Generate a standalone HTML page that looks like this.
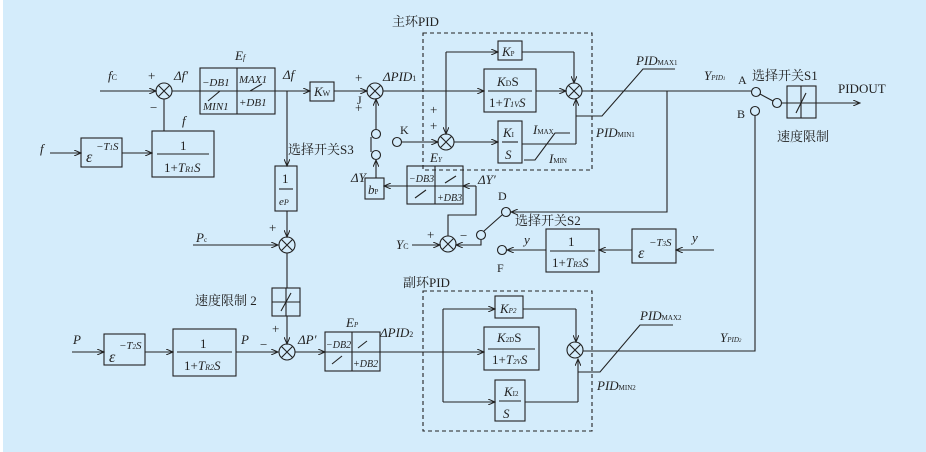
<!DOCTYPE html>
<html><head><meta charset="utf-8">
<style>
html,body{margin:0;padding:0;background:#fff;}
svg{display:block;}
text{font-family:"Liberation Serif","Noto Serif CJK SC",serif;fill:#222;}
.i{font-style:italic;}
.c{font-family:"Liberation Serif","Noto Serif CJK SC",serif;}
</style></head><body>
<svg width="926" height="452" viewBox="0 0 926 452" xmlns="http://www.w3.org/2000/svg">
<defs>
<marker id="a" markerWidth="8" markerHeight="6" refX="7" refY="3" orient="auto" markerUnits="userSpaceOnUse">
<path d="M0,0 L7,3 L0,6" fill="none" stroke="#222" stroke-width="1"/></marker>
<g id="sum"><circle r="8" fill="none" stroke="#222" stroke-width="1.1"/><path d="M-5.6,-5.6L5.6,5.6M-5.6,5.6L5.6,-5.6" stroke="#222" stroke-width="1.1"/></g>
</defs>
<rect x="0" y="0" width="926" height="452" fill="#d4ecfb"/>
<rect x="0" y="0" width="3" height="452" fill="#fff"/>
<g stroke="#222" stroke-width="1.1" fill="none">
<rect x="423" y="33" width="169" height="137" stroke-dasharray="4,3"/>
<rect x="423" y="291" width="169" height="140" stroke-dasharray="4,3"/>
<line x1="100" y1="91" x2="156" y2="91" marker-end="url(#a)"/>
<line x1="172" y1="91" x2="200" y2="91"/>
<rect x="200" y="68" width="75" height="46"/>
<line x1="237" y1="68" x2="237" y2="114"/><line x1="200" y1="91" x2="275" y2="91"/>
<line x1="208" y1="101" x2="220" y2="91"/><line x1="250" y1="91" x2="262" y2="84"/>
<line x1="275" y1="91" x2="310" y2="91" marker-end="url(#a)"/>
<rect x="310" y="82" width="24" height="19"/>
<line x1="334" y1="91" x2="367" y2="91" marker-end="url(#a)"/>
<line x1="383" y1="91" x2="484" y2="91" marker-end="url(#a)"/>
<line x1="50" y1="153" x2="81" y2="153" marker-end="url(#a)"/>
<rect x="81" y="138" width="41" height="29"/>
<line x1="122" y1="153" x2="152" y2="153" marker-end="url(#a)"/>
<rect x="152" y="131" width="62" height="46"/>
<line x1="157" y1="154" x2="209" y2="154"/>
<line x1="164" y1="131" x2="164" y2="99"/>
<line x1="287" y1="91" x2="287" y2="166" marker-end="url(#a)"/>
<rect x="275" y="166" width="22" height="45"/>
<line x1="279" y1="189" x2="293" y2="189"/>
<line x1="287" y1="211" x2="287" y2="237" marker-end="url(#a)"/>
<line x1="193" y1="245" x2="278" y2="245" marker-end="url(#a)"/>
<line x1="287" y1="253" x2="287" y2="288"/>
<rect x="272" y="288" width="28" height="28"/>
<line x1="286" y1="288" x2="286" y2="316"/><line x1="272" y1="302" x2="300" y2="302"/>
<line x1="281" y1="311" x2="291" y2="293"/>
<line x1="287" y1="316" x2="287" y2="344" marker-end="url(#a)"/>
<circle cx="376" cy="134" r="4.5"/><circle cx="376" cy="155" r="4.5"/>
<line x1="376" y1="129" x2="376" y2="99" marker-end="url(#a)"/>
<line x1="371" y1="137" x2="371" y2="152"/>
<rect x="365" y="178" width="19" height="21"/>
<line x1="376" y1="178" x2="376" y2="160" marker-end="url(#a)"/>
<circle cx="397" cy="142" r="4.5"/>
<line x1="402" y1="142" x2="438" y2="142" marker-end="url(#a)"/>
<line x1="446" y1="52" x2="498" y2="52" marker-end="url(#a)"/>
<line x1="446" y1="52" x2="446" y2="134" marker-end="url(#a)"/>
<rect x="498" y="41" width="24" height="19"/>
<line x1="522" y1="52" x2="574" y2="52"/><line x1="574" y1="52" x2="574" y2="83" marker-end="url(#a)"/>
<rect x="484" y="69" width="52" height="43"/>
<line x1="488" y1="91" x2="532" y2="91"/>
<line x1="536" y1="91" x2="566" y2="91" marker-end="url(#a)"/>
<line x1="454" y1="142" x2="498" y2="142" marker-end="url(#a)"/>
<rect x="498" y="121" width="24" height="42"/>
<line x1="502" y1="142" x2="518" y2="142"/>
<line x1="522" y1="144" x2="576" y2="144"/><line x1="576" y1="144" x2="576" y2="99" marker-end="url(#a)"/>
<polyline points="524,160 535,160 555,133 570,133"/>
<polyline points="576,116 602,116 643,69 675,69"/>
<line x1="582" y1="91" x2="751" y2="91"/>
<polyline points="667,91 667,212 511,212" marker-end="url(#a)"/>
<circle cx="756" cy="92" r="4.5"/><circle cx="777" cy="103" r="4.5"/>
<line x1="760" y1="94" x2="773" y2="101"/>
<line x1="781" y1="103" x2="860" y2="103" marker-end="url(#a)"/>
<rect x="787" y="86" width="29" height="32"/>
<line x1="801" y1="86" x2="801" y2="118"/>
<line x1="796" y1="113" x2="806" y2="93"/>
<circle cx="755" cy="111" r="4.5"/>
<polyline points="755,116 755,351 583,351"/>
<rect x="407" y="166" width="56" height="38"/>
<line x1="435" y1="166" x2="435" y2="204"/><line x1="407" y1="186" x2="463" y2="186"/>
<line x1="415" y1="198" x2="426" y2="190"/><line x1="445" y1="183" x2="456" y2="176"/>
<line x1="407" y1="186" x2="384" y2="186" marker-end="url(#a)"/>
<polyline points="476,186 476,215 448,215 448,236"/>
<line x1="476" y1="186" x2="463" y2="186" marker-end="url(#a)"/>
<line x1="412" y1="245" x2="440" y2="245" marker-end="url(#a)"/>
<circle cx="481" cy="235" r="4.5"/>
<polyline points="481,240 481,245 456,245" marker-end="url(#a)"/>
<line x1="484" y1="231" x2="502" y2="215"/>
<circle cx="506" cy="212" r="4.5"/>
<circle cx="502" cy="250" r="4.5"/>
<line x1="546" y1="250" x2="507" y2="250" marker-end="url(#a)"/>
<rect x="546" y="229" width="53" height="43"/>
<line x1="550" y1="251" x2="595" y2="251"/>
<line x1="632" y1="250" x2="599" y2="250" marker-end="url(#a)"/>
<rect x="632" y="229" width="44" height="34"/>
<line x1="714" y1="250" x2="676" y2="250" marker-end="url(#a)"/>
<line x1="72" y1="352" x2="104" y2="352" marker-end="url(#a)"/>
<rect x="104" y="334" width="41" height="31"/>
<line x1="145" y1="352" x2="173" y2="352" marker-end="url(#a)"/>
<rect x="173" y="329" width="63" height="47"/>
<line x1="177" y1="352" x2="232" y2="352"/>
<line x1="236" y1="352" x2="278" y2="352" marker-end="url(#a)"/>
<line x1="295" y1="352" x2="325" y2="352" marker-end="url(#a)"/>
<rect x="325" y="332" width="55" height="39"/>
<line x1="352" y1="332" x2="352" y2="371"/><line x1="325" y1="352" x2="380" y2="352"/>
<line x1="332" y1="364" x2="342" y2="356"/><line x1="358" y1="348" x2="367" y2="341"/>
<line x1="380" y1="352" x2="484" y2="352" marker-end="url(#a)"/>
<line x1="443" y1="309" x2="495" y2="309" marker-end="url(#a)"/>
<line x1="443" y1="309" x2="443" y2="402"/>
<line x1="443" y1="402" x2="495" y2="402" marker-end="url(#a)"/>
<rect x="495" y="296" width="28" height="22"/>
<line x1="523" y1="309" x2="576" y2="309"/><line x1="576" y1="309" x2="576" y2="342" marker-end="url(#a)"/>
<rect x="484" y="327" width="55" height="43"/>
<line x1="488" y1="349" x2="535" y2="349"/>
<rect x="495" y="380" width="30" height="41"/>
<line x1="499" y1="401" x2="521" y2="401"/>
<line x1="525" y1="402" x2="578" y2="402"/><line x1="578" y1="402" x2="578" y2="359" marker-end="url(#a)"/>
<polyline points="578,372 600,372 640,325 673,325"/>
</g>
<use href="#sum" x="164" y="91"/><use href="#sum" x="375" y="91"/><use href="#sum" x="446" y="142"/>
<use href="#sum" x="574" y="91"/><use href="#sum" x="448" y="244"/><use href="#sum" x="287" y="245"/>
<use href="#sum" x="287" y="352"/><use href="#sum" x="575" y="350"/>
<g font-size="13">
<text x="108" y="80" class="i">f<tspan font-size="8" font-style="normal">C</tspan></text>
<text x="148" y="80">+</text><text x="150" y="112">−</text>
<text x="174" y="80" class="i">Δf′</text>
<text x="235" y="60" class="i">E<tspan font-size="8">f</tspan></text>
<text x="202" y="86" class="i" font-size="11">−DB1</text><text x="239" y="83" class="i" font-size="11">MAX1</text>
<text x="203" y="110" class="i" font-size="11">MIN1</text><text x="239" y="106" class="i" font-size="11">+DB1</text>
<text x="283" y="79" class="i">Δf</text>
<text x="314" y="96" class="i">K<tspan font-size="8" font-style="normal">W</tspan></text>
<text x="355" y="82">+</text><text x="355" y="112">+</text>
<text x="383" y="81" class="i">ΔPID<tspan font-size="8" font-style="normal">1</tspan></text>
<text x="40" y="153" class="i">f</text>
<text x="86" y="162" class="i" font-size="16">ε</text><text x="96" y="150" class="i" font-size="11">−T<tspan font-size="7">1</tspan>S</text>
<text x="182" y="125" class="i">f</text>
<text x="180" y="150">1</text><text x="164" y="172">1+<tspan class="i">T<tspan font-size="8">R1</tspan>S</tspan></text>
<text x="282" y="183">1</text><text x="279" y="205" class="i" font-size="11">e<tspan font-size="8">P</tspan></text>
<text x="357" y="104" font-size="12">J</text>
<text x="400" y="134" font-size="12">K</text>
<text x="288" y="154" class="c" font-size="13">选择开关S3</text>
<text x="368" y="194" class="i">b<tspan font-size="7" font-style="normal">P</tspan></text>
<text x="351" y="182" class="i">ΔY</text>
<text x="430" y="114">+</text><text x="430" y="130">+</text>
<text x="430" y="162" class="i">E<tspan font-size="7">Y</tspan></text>
<text x="409" y="182" class="i" font-size="10">−DB3</text><text x="437" y="201" class="i" font-size="10">+DB3</text>
<text x="478" y="184" class="i">ΔY′</text>
<text x="498" y="200" font-size="12">D</text>
<text x="497" y="272" font-size="12">F</text>
<text x="396" y="249" class="i">Y<tspan font-size="8" font-style="normal">C</tspan></text>
<text x="427" y="239">+</text><text x="460" y="240">−</text>
<text x="515" y="225" class="c">选择开关S2</text>
<text x="524" y="244" class="i">y</text>
<text x="568" y="246">1</text><text x="552" y="267">1+<tspan class="i">T<tspan font-size="8">R3</tspan>S</tspan></text>
<text x="638" y="258" class="i" font-size="16">ε</text><text x="649" y="246" class="i" font-size="11">−T<tspan font-size="7">3</tspan>S</text>
<text x="692" y="242" class="i">y</text>
<text x="392" y="26" class="c" font-size="13">主环PID</text>
<text x="502" y="56" class="i">K<tspan font-size="7" font-style="normal">P</tspan></text>
<text x="497" y="86" class="i">K<tspan font-size="8" font-style="normal">D</tspan><tspan font-style="normal">S</tspan></text>
<text x="489" y="107">1+<tspan class="i">T<tspan font-size="8">1V</tspan>S</tspan></text>
<text x="503" y="137" class="i">K<tspan font-size="7" font-style="normal">I</tspan></text>
<text x="505" y="159" class="i">S</text>
<text x="533" y="134" class="i">I<tspan font-size="7" font-style="normal">MAX</tspan></text>
<text x="549" y="163" class="i">I<tspan font-size="7" font-style="normal">MIN</tspan></text>
<text x="636" y="65" class="i">PID<tspan font-size="7" font-style="normal">MAX1</tspan></text>
<text x="596" y="137" class="i">PID<tspan font-size="7" font-style="normal">MIN1</tspan></text>
<text x="704" y="80" class="i">Y<tspan font-size="7">PID<tspan font-size="5">1</tspan></tspan></text>
<text x="738" y="84" font-size="12">A</text><text x="737" y="118" font-size="12">B</text>
<text x="752" y="80" class="c">选择开关S1</text>
<text x="838" y="93" font-size="13">PIDOUT</text>
<text x="777" y="141" class="c">速度限制</text>
<text x="196" y="242" class="i">P<tspan font-size="7" font-style="normal">c</tspan></text>
<text x="269" y="232">+</text>
<text x="195" y="305" class="c">速度限制 2</text>
<text x="272" y="333">+</text><text x="260" y="349">−</text>
<text x="73" y="344" class="i">P</text>
<text x="109" y="362" class="i" font-size="16">ε</text><text x="119" y="349" class="i" font-size="11">−T<tspan font-size="7">2</tspan>S</text>
<text x="200" y="348">1</text><text x="184" y="370">1+<tspan class="i">T<tspan font-size="8">R2</tspan>S</tspan></text>
<text x="241" y="344" class="i">P</text>
<text x="298" y="344" class="i">ΔP′</text>
<text x="346" y="327" class="i">E<tspan font-size="7">P</tspan></text>
<text x="326" y="348" class="i" font-size="10">−DB2</text><text x="353" y="367" class="i" font-size="10">+DB2</text>
<text x="380" y="337" class="i">ΔPID<tspan font-size="8" font-style="normal">2</tspan></text>
<text x="403" y="287" class="c">副环PID</text>
<text x="500" y="313" class="i">K<tspan font-size="7">P2</tspan></text>
<text x="497" y="342" class="i">K<tspan font-size="7" font-style="normal">2D</tspan><tspan font-style="normal">S</tspan></text>
<text x="492" y="364">1+<tspan class="i">T<tspan font-size="7">2V</tspan>S</tspan></text>
<text x="504" y="396" class="i">K<tspan font-size="7" font-style="normal">I2</tspan></text>
<text x="503" y="418" class="i">S</text>
<text x="640" y="320" class="i">PID<tspan font-size="7" font-style="normal">MAX2</tspan></text>
<text x="597" y="390" class="i">PID<tspan font-size="7" font-style="normal">MIN2</tspan></text>
<text x="720" y="342" class="i">Y<tspan font-size="7">PID<tspan font-size="5">2</tspan></tspan></text>
</g>
</svg>
</body></html>
